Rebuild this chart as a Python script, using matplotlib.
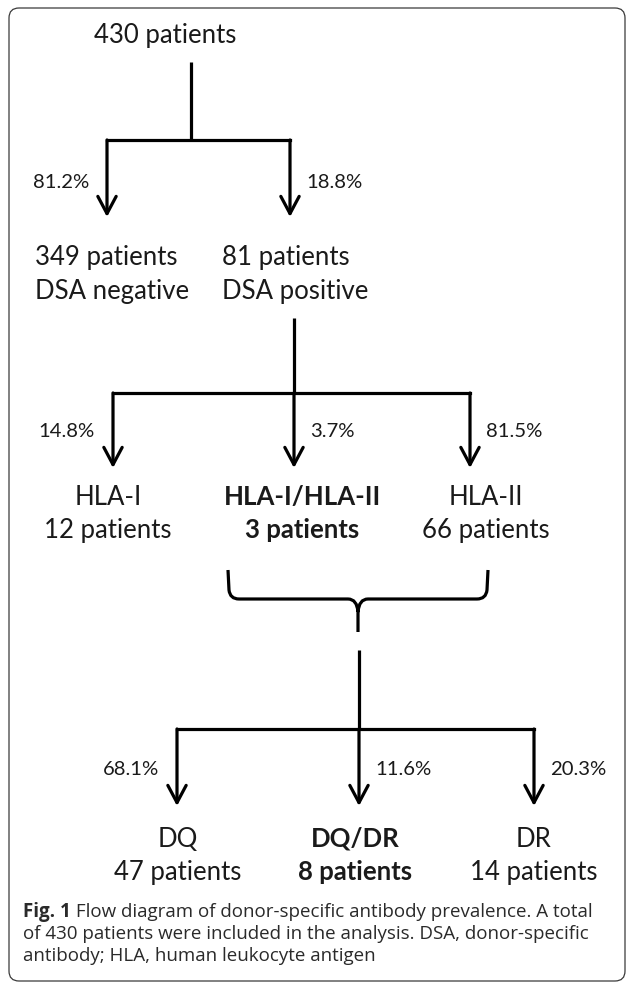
import matplotlib.pyplot as plt
from matplotlib.patches import FancyBboxPatch, PathPatch
from matplotlib.path import Path

# ---------------------------------------------------------------------------
# Data
# ---------------------------------------------------------------------------
total_patients = 430

status_labels = ["DSA negative", "DSA positive"]
status_counts = [349, 81]
status_pcts = ["81.2%", "18.8%"]

hla_labels = ["HLA-I", "HLA-I/HLA-II", "HLA-II"]
hla_counts = [12, 3, 66]
hla_pcts = ["14.8%", "3.7%", "81.5%"]

locus_labels = ["DQ", "DQ/DR", "DR"]
locus_counts = [47, 8, 14]
locus_pcts = ["68.1%", "11.6%", "20.3%"]

bold_groups = [False, True, False]

caption_bold = "Fig. 1"
caption_lines = [
    " Flow diagram of donor-specific antibody prevalence. A total",
    "of 430 patients were included in the analysis. DSA, donor-specific",
    "antibody; HLA, human leukocyte antigen",
]

# ---------------------------------------------------------------------------
# Style
# ---------------------------------------------------------------------------
BODY_FONT = "Lato"
CAPTION_FONT = "Open Sans"
BODY_SIZE = 18.5
PCT_SIZE = 14.6
CAPTION_SIZE = 13.5
TEXT_COLOR = "#1a1a1a"
CAPTION_COLOR = "#2a2a2a"
LINE_W = 2.3

W, H = 627, 983
fig = plt.figure(figsize=(W / 100, H / 100), dpi=100)
ax = fig.add_axes([0, 0, 1, 1])
ax.set_xlim(0, W)
ax.set_ylim(H, 0)
ax.axis("off")

# Rounded frame around the whole figure
ax.add_patch(
    FancyBboxPatch(
        (9, 8), 616, 973,
        boxstyle="round,pad=0,rounding_size=10",
        fill=False, lw=0.9, ec="#3a3a3a",
    )
)


def branch(stem_x, stem_top, bar_y, xs, tip_y, pcts, pct_base, sides):
    """Stem down to a horizontal bar, then one arrow per child."""
    ax.plot([stem_x, stem_x], [stem_top, bar_y], color="k", lw=LINE_W,
            solid_capstyle="butt")
    ax.plot([xs[0], xs[-1]], [bar_y, bar_y], color="k", lw=LINE_W,
            solid_capstyle="projecting")
    for x, pct, side in zip(xs, pcts, sides):
        ax.annotate(
            "", xy=(x, tip_y), xytext=(x, bar_y),
            arrowprops=dict(
                arrowstyle="->,head_length=0.62,head_width=0.33",
                color="k", lw=LINE_W, shrinkA=0, shrinkB=0,
                mutation_scale=20,
            ),
        )
        if side == "left":
            ax.text(x - 18, pct_base, pct, ha="right", va="baseline",
                    fontsize=PCT_SIZE, family=BODY_FONT, color=TEXT_COLOR)
        else:
            ax.text(x + 16, pct_base, pct, ha="left", va="baseline",
                    fontsize=PCT_SIZE, family=BODY_FONT, color=TEXT_COLOR)


def two_lines(x, base1, base2, top, bottom, ha="center", bold=False):
    weight = "bold" if bold else "normal"
    for base, s in ((base1, top), (base2, bottom)):
        ax.text(x, base, s, ha=ha, va="baseline", fontsize=BODY_SIZE,
                family=BODY_FONT, fontweight=weight, color=TEXT_COLOR)


# Level 0: all patients
ax.text(165, 43, f"{total_patients} patients", ha="center", va="baseline",
        fontsize=BODY_SIZE, family=BODY_FONT, color=TEXT_COLOR)

# Level 1: DSA negative / positive
status_x = [107, 290]
branch(191, 62, 140, status_x, 217, status_pcts, 188, ["left", "right"])
for x0, n, lab in zip([35, 222], status_counts, status_labels):
    two_lines(x0, 265, 299, f"{n} patients", lab, ha="left")

# Level 2: HLA class
hla_x = [113, 294, 470]
branch(294, 318, 393, hla_x, 468, hla_pcts, 437, ["left", "right", "right"])
for cx, lab, n, b in zip([108, 302, 486], hla_labels, hla_counts, bold_groups):
    two_lines(cx, 505, 538, lab, f"{n} patients", bold=b)

# Curly brace gathering HLA-I/HLA-II and HLA-II
brace = Path(
    [(228, 570), (229, 590), (230, 599), (239, 599), (348, 599),
     (357, 599), (358, 612), (358, 632),
     (488, 570), (487, 590), (486, 599), (477, 599), (368, 599),
     (359, 599), (358, 612)],
    [Path.MOVETO, Path.LINETO, Path.CURVE3, Path.CURVE3, Path.LINETO,
     Path.CURVE3, Path.CURVE3, Path.LINETO,
     Path.MOVETO, Path.LINETO, Path.CURVE3, Path.CURVE3, Path.LINETO,
     Path.CURVE3, Path.CURVE3],
)
ax.add_patch(PathPatch(brace, fill=False, lw=LINE_W, ec="k",
                       capstyle="butt", joinstyle="round"))

# Level 3: DR / DQ loci
locus_x = [177, 359, 534]
branch(359, 650, 729, locus_x, 806, locus_pcts, 775, ["left", "right", "right"])
for cx, lab, n, b in zip([178, 355, 534], locus_labels, locus_counts, bold_groups):
    two_lines(cx, 847, 880, lab, f"{n} patients", bold=b)

# Caption: bold "Fig. 1" followed by regular text
cap_base = [917, 939, 961]
fig_txt = ax.text(23, cap_base[0], caption_bold, ha="left", va="baseline",
                  fontsize=CAPTION_SIZE, family=CAPTION_FONT, fontweight="bold",
                  color=CAPTION_COLOR)
renderer = fig.canvas.get_renderer()
bb = fig_txt.get_window_extent(renderer).transformed(ax.transData.inverted())
ax.text(bb.x1, cap_base[0], caption_lines[0], ha="left", va="baseline",
        fontsize=CAPTION_SIZE, family=CAPTION_FONT, color=CAPTION_COLOR)
for base, line in zip(cap_base[1:], caption_lines[1:]):
    ax.text(23, base, line, ha="left", va="baseline",
            fontsize=CAPTION_SIZE, family=CAPTION_FONT, color=CAPTION_COLOR)

fig.savefig("out.png", dpi=100, facecolor="white")
